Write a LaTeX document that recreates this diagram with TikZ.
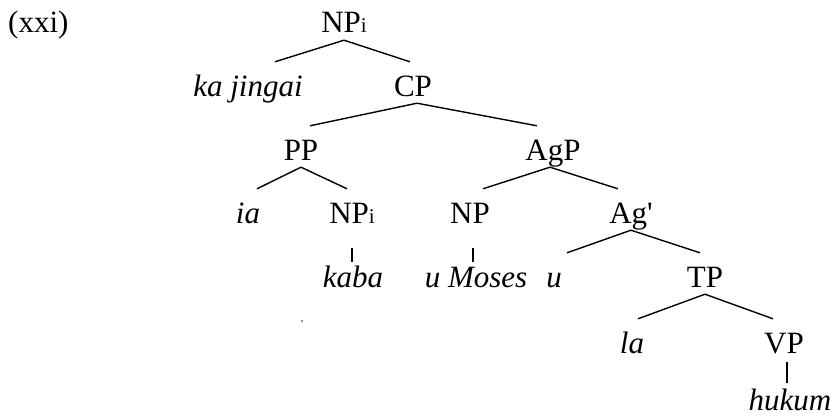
\documentclass[tikz,border=0pt]{standalone}
\usepackage{fontspec}
\setmainfont{Liberation Serif}
\usepackage{tikz}

% small index letter sitting on the baseline
\newcommand\ix{{\fontsize{21}{21}\selectfont i}}

\begin{document}
\begin{tikzpicture}[x=1pt,y=-1pt,
  lab/.style={anchor=base,inner sep=0pt,text height=34pt,text depth=7pt,font=\fontsize{31}{31}\selectfont},
  wd/.style={lab,font=\fontsize{31}{31}\selectfont\itshape},
  leaf/.style={text height=25pt},
  br/.style={line width=1.4pt}]

\useasboundingbox (0,0) rectangle (836,420);

\node[lab,anchor=base west] (num) at (8,33) {(xxi)};

% top: NP_i -> ka jingai, CP
\node[lab] (np0) at (344,33) {NP\ix};
\node[wd] (kj) at (248,96) {ka jingai};
\node[lab] (cp) at (413,96) {CP};
\draw[br] (np0.south) -- ([xshift=27pt]kj.north);
\draw[br] (np0.south) -- ([xshift=-3pt]cp.north);

% CP -> PP, AgP
\node[lab] (pp) at (301,160) {PP};
\node[lab] (agp) at (553,160) {AgP};
\draw[br] ([xshift=4pt]cp.south) -- ([xshift=9pt]pp.north);
\draw[br] ([xshift=4pt]cp.south) -- ([xshift=-16pt]agp.north);

% PP -> ia, NP_i
\node[wd] (ia) at (248,223) {ia};
\node[lab] (npb) at (352,223) {NP\ix};
\draw[br] (pp.south) -- ([xshift=9pt]ia.north);
\draw[br] (pp.south) -- ([xshift=-5pt]npb.north);

% AgP -> NP, Ag'
\node[lab] (np) at (470,223) {NP};
\node[lab] (agb) at (631,223) {Ag\textquotesingle};
\draw[br] ([xshift=-3pt]agp.south) -- ([xshift=13pt]np.north);
\draw[br] ([xshift=-3pt]agp.south) -- ([xshift=-13pt]agb.north);

% stems under the two NPs
\node[wd,leaf] (kaba) at (353,287) {kaba};
\node[wd,leaf] (umo) at (476,287) {u Moses};
\draw[br] ([yshift=-18pt]npb.south) -- (npb.south |- kaba.north);
\draw[br] ([xshift=3pt,yshift=-18pt]np.south) -- ([xshift=3pt]np.south |- umo.north);

% Ag' -> u, TP
\node[wd] (u) at (554,287) {u};
\node[lab] (tp) at (705,287) {TP};
\draw[br] (agb.south) -- ([xshift=13pt]u.north);
\draw[br] (agb.south) -- ([xshift=-5pt]tp.north);

% TP -> la, VP
\node[wd] (la) at (632,353) {la};
\node[lab] (vp) at (784,353) {VP};
\draw[br] (tp.south) -- ([xshift=6pt]la.north);
\draw[br] (tp.south) -- ([xshift=-11pt]vp.north);

% VP stem
\node[wd,leaf] (huk) at (790,410) {hukum};
\draw[br] ([xshift=3pt,yshift=-2pt]vp.south) -- ([xshift=3pt,yshift=2pt]vp.south |- huk.north);

% stray dot
\fill[black!60] (302,321) circle (1.1);
\end{tikzpicture}
\end{document}
